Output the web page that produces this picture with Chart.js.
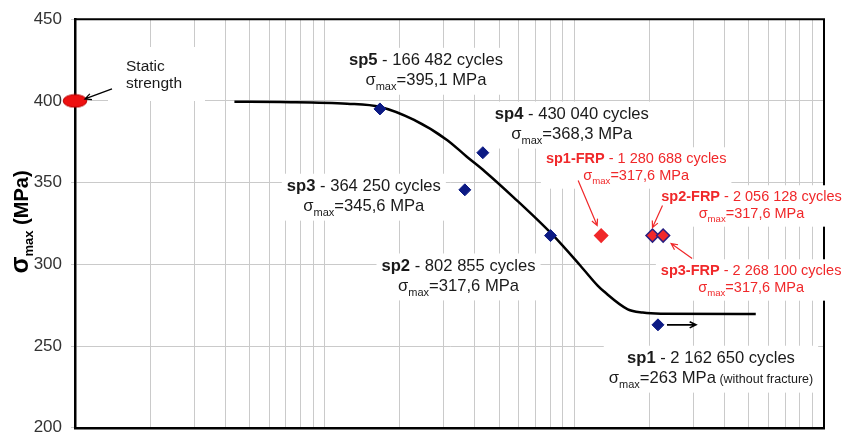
<!DOCTYPE html>
<html>
<head>
<meta charset="utf-8">
<script src="https://cdn.jsdelivr.net/npm/chart.js@4.4.1/dist/chart.umd.min.js"></script>
<style>
html, body { margin: 0; padding: 0; background: #fff; overflow: hidden; }
#wrap { width: 843px; height: 433px; overflow: hidden; }
</style>
</head>
<body>
<div id="wrap"><canvas id="c" width="843" height="447"></canvas></div>
<script>
// fatigue tests, plain specimens
const specimens = ['sp5', 'sp4', 'sp3', 'sp2', 'sp1'];
const cycles = [166482, 430040, 364250, 802855, 2162650];
const stress = [395.1, 368.3, 345.6, 317.6, 263];
const notes = ['', '', '', '', ' (without fracture)'];

// FRP strengthened specimens
const frpSpecimens = ['sp1-FRP', 'sp2-FRP', 'sp3-FRP'];
const frpCycles = [1280688, 2056128, 2268100];
const frpStress = [317.6, 317.6, 317.6];

// static strength
const staticCycles = [10000];
const staticStress = [400];

// S-N trend curve
const curveCycles = [43500, 66400, 123000, 167000, 227000, 310000, 370000, 437000, 571000, 819000, 1060000, 1240000, 1312000, 1637000, 1880000, 2220000, 5330000];
const curveStress = [399.5, 399.3, 398.3, 396.3, 388.5, 376, 366, 357, 341, 318, 299, 287, 283.5, 272.5, 270.5, 269.8, 269.6];

const yTicks = [200, 250, 300, 350, 400, 450];
const xDecades = [1e4, 1e5, 1e6];
const xSteps = [1, 2, 3, 4, 5, 6, 7, 8, 9];

const FONT = '"Liberation Sans", Arial, sans-serif';
const TXT = '#1a1a1a';
const RED = '#f0282a';
const NAVY = '#0c1a84';

// label placement: offset of label centre / first baseline from its point (px)
const labelPos = {
  'sp5': [46, -44], 'sp4': [89, -34], 'sp3': [-101, 1], 'sp2': [-92, 35], 'sp1': [53, 38],
  'sp1-FRP': [35, -73], 'sp2-FRP': [99, -35], 'sp3-FRP': [88, 39]
};
// arrows: [tail dx, tail dy, tip dx, tip dy] relative to the point
const arrowPos = {
  'static': [37, -12, 10, -2], 'sp1': [9, 0, 38, 0],
  'sp1-FRP': [-23, -55, -4, -10], 'sp2-FRP': [10, -30, 0, -8], 'sp3-FRP': [29, 23, 8, 8]
};

const fmtCycles = n => String(n).replace(/\B(?=(\d{3})+(?!\d))/g, ' ');
const fmtStress = v => String(v).replace('.', ',');

const xGrid = [];
xDecades.forEach(d => xSteps.forEach(s => xGrid.push(d * s)));
xGrid.push(1e7);

const labels = [];
specimens.forEach((n, i) => labels.push({
  x: cycles[i], y: stress[i], off: labelPos[n], color: TXT, size: 16.6, gap: 20,
  lines: [[{ t: n, bold: true }, { t: ' - ' + fmtCycles(cycles[i]) + ' cycles' }],
          [{ t: 'σ' }, { t: 'max', sub: true }, { t: '=' + fmtStress(stress[i]) + ' MPa' }, { t: notes[i], small: true }]]
}));
frpSpecimens.forEach((n, i) => labels.push({
  x: frpCycles[i], y: frpStress[i], off: labelPos[n], color: RED, size: 14.5, gap: 17,
  lines: [[{ t: n, bold: true }, { t: ' - ' + fmtCycles(frpCycles[i]) + ' cycles' }],
          [{ t: 'σ' }, { t: 'max', sub: true }, { t: '=' + fmtStress(frpStress[i]) + ' MPa' }]]
}));
labels.push({
  x: staticCycles[0], y: staticStress[0], off: [51, -30], color: TXT, size: 15.5, gap: 17, align: 'left',
  box: [108, 47, 97, 54],
  lines: [[{ t: 'Static' }], [{ t: 'strength' }]]
});

const arrows = [
  { x: staticCycles[0], y: staticStress[0], p: arrowPos['static'], color: '#000', w: 1.3 },
  { x: cycles[4], y: stress[4], p: arrowPos['sp1'], color: '#000', w: 1.6 }
];
frpSpecimens.forEach((n, i) => arrows.push({ x: frpCycles[i], y: frpStress[i], p: arrowPos[n], color: RED, w: 1.2 }));

function setFont(ctx, s, size) {
  const sz = s.sub ? size * 0.66 : s.small ? size * 0.75 : size;
  ctx.font = (s.bold ? 'bold ' : '') + sz.toFixed(1) + 'px ' + FONT;
}
function measure(ctx, segs, size) {
  let w = 0;
  segs.forEach(s => { setFont(ctx, s, size); w += ctx.measureText(s.t).width; });
  return w;
}
function drawSegs(ctx, segs, x, y, size) {
  segs.forEach(s => {
    setFont(ctx, s, size);
    ctx.fillText(s.t, x, y + (s.sub ? size * 0.3 : 0));
    x += ctx.measureText(s.t).width;
  });
}
function drawArrow(ctx, x1, y1, x2, y2, color, w) {
  const a = Math.atan2(y2 - y1, x2 - x1), h = 7;
  ctx.strokeStyle = color; ctx.lineWidth = w;
  ctx.beginPath();
  ctx.moveTo(x1, y1); ctx.lineTo(x2, y2);
  ctx.moveTo(x2 - h * Math.cos(a - 0.45), y2 - h * Math.sin(a - 0.45));
  ctx.lineTo(x2, y2);
  ctx.lineTo(x2 - h * Math.cos(a + 0.45), y2 - h * Math.sin(a + 0.45));
  ctx.stroke();
}

const overlay = {
  id: 'overlay',
  beforeDatasetsDraw(chart) {
    const { ctx, chartArea: a, scales: { x, y } } = chart;
    ctx.save();
    ctx.strokeStyle = '#000'; ctx.lineWidth = 2;
    ctx.beginPath();
    ctx.moveTo(a.left, a.top); ctx.lineTo(a.right, a.top); ctx.lineTo(a.right, a.bottom);
    ctx.stroke();
    ctx.textBaseline = 'alphabetic';
    labels.forEach(L => {
      const px = x.getPixelForValue(L.x) + L.off[0];
      const py = y.getPixelForValue(L.y) + L.off[1];
      const widths = L.lines.map(l => measure(ctx, l, L.size));
      const wMax = Math.max(...widths);
      ctx.fillStyle = '#fff';
      if (L.box) ctx.fillRect(L.box[0], L.box[1], L.box[2], L.box[3]);
      else {
        const left = L.align === 'left' ? px : px - wMax / 2;
        const top = py - L.size * 0.85 - 3;
        const bottom = py + L.gap * (L.lines.length - 1) + L.size * 0.35 + 4;
        ctx.fillRect(left - 5, top, wMax + 10, bottom - top);
      }
      ctx.fillStyle = L.color;
      L.lines.forEach((l, k) => {
        const lx = L.align === 'left' ? px : px - widths[k] / 2;
        drawSegs(ctx, l, lx, py + k * L.gap, L.size);
      });
    });
    ctx.restore();
  },
  afterDatasetsDraw(chart) {
    const { ctx, scales: { x, y } } = chart;
    ctx.save();
    arrows.forEach(A => {
      const px = x.getPixelForValue(A.x), py = y.getPixelForValue(A.y);
      drawArrow(ctx, px + A.p[0], py + A.p[1], px + A.p[2], py + A.p[3], A.color, A.w);
    });
    ctx.restore();
  },
  afterDraw(chart) {
    const ctx = chart.ctx;
    const segs = [
      { t: 'σ', font: 'bold 25px ' + FONT, dy: 0 },
      { t: 'max', font: 'bold 13px ' + FONT, dy: 4.5 },
      { t: ' (MPa)', font: 'bold 20px ' + FONT, dy: 0 }
    ];
    ctx.save();
    ctx.translate(28, 222);
    ctx.rotate(-Math.PI / 2);
    ctx.fillStyle = '#000';
    ctx.textBaseline = 'alphabetic';
    let w = 0;
    segs.forEach(s => { ctx.font = s.font; w += ctx.measureText(s.t).width; });
    let cx = -w / 2;
    segs.forEach(s => { ctx.font = s.font; ctx.fillText(s.t, cx, s.dy); cx += ctx.measureText(s.t).width; });
    ctx.restore();
  }
};

// red ellipse marker for the static strength
const ellipse = document.createElement('canvas');
ellipse.width = 26; ellipse.height = 15;
(() => {
  const g = ellipse.getContext('2d');
  g.fillStyle = '#ee1010'; g.strokeStyle = '#b80000'; g.lineWidth = 1;
  g.beginPath(); g.ellipse(13, 7.5, 11.8, 6.3, 0, 0, Math.PI * 2); g.fill(); g.stroke();
})();

Chart.defaults.font.family = FONT;

new Chart(document.getElementById('c'), {
  type: 'scatter',
  data: {
    datasets: [
      {
        data: staticCycles.map((c, i) => ({ x: c, y: staticStress[i] })),
        pointStyle: ellipse, clip: false, order: 0
      },
      {
        data: frpCycles.map((c, i) => ({ x: c, y: frpStress[i] })),
        pointStyle: 'rectRot', pointRadius: 6.5, backgroundColor: RED,
        borderColor: [RED, '#2a1f80', '#2a1f80'], borderWidth: 1.5, order: 1
      },
      {
        data: cycles.map((c, i) => ({ x: c, y: stress[i] })),
        pointStyle: 'rectRot', pointRadius: 6, backgroundColor: NAVY,
        borderColor: NAVY, borderWidth: 1, order: 2
      },
      {
        data: curveCycles.map((c, i) => ({ x: c, y: curveStress[i] })),
        showLine: true, borderColor: '#000', borderWidth: 2.5, pointRadius: 0,
        cubicInterpolationMode: 'monotone', order: 3
      }
    ]
  },
  options: {
    responsive: false,
    devicePixelRatio: 1,
    animation: false,
    events: [],
    layout: { padding: { left: 0, top: 17, right: 19, bottom: 11 } },
    plugins: { legend: { display: false }, tooltip: { enabled: false } },
    scales: {
      x: {
        type: 'logarithmic', min: 1e4, max: 1e7,
        afterBuildTicks: s => { s.ticks = xGrid.map(v => ({ value: v })); },
        afterFit: s => { s.height = 0; },
        ticks: { display: false },
        grid: { color: '#cacaca', lineWidth: 1, drawTicks: false },
        border: { color: '#000', width: 2.5 }
      },
      y: {
        min: 200, max: 450,
        afterBuildTicks: s => { s.ticks = yTicks.map(v => ({ value: v })); },
        afterFit: s => { s.width = 75; },
        ticks: { color: '#333', font: { size: 17 }, padding: 9 },
        grid: { color: '#cacaca', lineWidth: 1, tickLength: 4 },
        border: { color: '#000', width: 2.5 }
      }
    }
  },
  plugins: [overlay]
});
</script>
</body>
</html>
